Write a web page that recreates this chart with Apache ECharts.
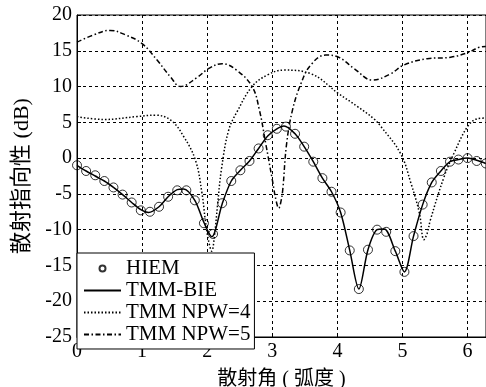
<!DOCTYPE html>
<html>
<head>
<meta charset="utf-8">
<script src="https://cdn.jsdelivr.net/npm/echarts@6/dist/echarts.min.js"></script>
<style>html,body{margin:0;padding:0;background:#fff;}#c{width:486px;height:387px;}</style>
</head>
<body>
<div id="c"></div>
<script>
// HIEM (circles)
const hiemX = [0, 0.14, 0.28, 0.42, 0.56, 0.70, 0.84, 0.98, 1.12, 1.26, 1.40, 1.54, 1.68, 1.81, 1.95, 2.09, 2.23, 2.37, 2.51, 2.65, 2.79, 2.93, 3.07, 3.21, 3.35, 3.49, 3.63, 3.77, 3.91, 4.05, 4.19, 4.33, 4.47, 4.61, 4.75, 4.89, 5.03, 5.17, 5.31, 5.45, 5.59, 5.73, 5.86, 6.00, 6.14, 6.28];
const hiemY = [-1.0, -1.8, -2.4, -3.2, -4.1, -5.1, -6.2, -7.3, -7.5, -6.8, -5.4, -4.5, -4.5, -5.9, -9.1, -10.6, -6.3, -3.2, -1.7, -0.4, 1.35, 3.2, 4.1, 4.4, 3.4, 1.6, -0.5, -2.8, -4.7, -7.6, -12.9, -18.3, -12.8, -10.0, -10.3, -13.0, -15.9, -10.9, -6.5, -3.4, -1.8, -0.5, -0.2, 0.0, -0.4, -0.75];
// TMM-BIE (solid)
const bieX = [0, 0.14, 0.28, 0.42, 0.56, 0.70, 0.84, 0.98, 1.10, 1.26, 1.40, 1.54, 1.64, 1.81, 1.95, 2.07, 2.23, 2.37, 2.51, 2.65, 2.79, 2.93, 3.07, 3.18, 3.35, 3.49, 3.63, 3.77, 3.91, 4.05, 4.19, 4.33, 4.47, 4.61, 4.72, 4.89, 5.03, 5.17, 5.31, 5.45, 5.59, 5.73, 5.86, 6.00, 6.14, 6.28];
const bieY = [-1.0, -1.8, -2.5, -3.2, -4.1, -5.1, -6.2, -7.2, -7.6, -6.8, -5.4, -4.4, -4.3, -5.9, -9.0, -11.0, -6.4, -3.2, -1.7, -0.4, 1.35, 3.1, 4.1, 4.5, 3.4, 1.6, -0.5, -2.8, -4.7, -7.6, -12.9, -18.3, -12.8, -10.0, -9.9, -13.0, -15.9, -10.9, -6.5, -3.4, -1.8, -0.5, -0.2, 0.0, -0.3, -0.75];
// TMM NPW=4 (dotted)
const npw4X = [0, 0.41, 0.92, 1.20, 1.44, 1.64, 1.82, 1.92, 1.97, 2.02, 2.07, 2.11, 2.16, 2.22, 2.33, 2.46, 2.69, 2.92, 3.18, 3.59, 4.02, 4.31, 4.56, 4.67, 4.97, 5.13, 5.26, 5.33, 5.38, 5.43, 5.64, 5.79, 6.00, 6.15, 6.28];
const npw4Y = [5.8, 5.4, 5.8, 6.0, 5.3, 3.0, -0.3, -4.9, -8.6, -11.5, -13.0, -11.0, -6.5, -1.5, 3.9, 6.5, 10.0, 11.6, 12.3, 11.8, 9.0, 7.2, 5.5, 4.4, 0.65, -3.5, -7.7, -11.4, -10.5, -8.6, -2.6, 0.65, 4.4, 5.5, 5.6];
// TMM NPW=5 (dash-dot)
const npw5X = [0, 0.25, 0.51, 0.75, 1.0, 1.23, 1.44, 1.59, 1.85, 2.02, 2.23, 2.45, 2.69, 2.80, 2.90, 3.00, 3.06, 3.10, 3.13, 3.16, 3.22, 3.31, 3.44, 3.59, 3.82, 4.02, 4.26, 4.54, 4.82, 5.02, 5.38, 5.74, 6.02, 6.18, 6.28];
const npw5Y = [16.2, 17.2, 17.85, 17.2, 16.0, 13.7, 11.3, 10.0, 11.3, 12.5, 13.2, 12.3, 10.0, 6.8, 2.0, -3.0, -6.0, -7.0, -6.2, -4.5, 2.0, 6.7, 10.4, 13.0, 14.4, 14.1, 12.5, 10.9, 11.8, 13.0, 13.9, 14.1, 14.8, 15.5, 15.6];

const seriesNames = ['HIEM', 'TMM-BIE', 'TMM NPW=4', 'TMM NPW=5'];
const xTicks = [0, 1, 2, 3, 4, 5, 6];
const yTicks = [-25, -20, -15, -10, -5, 0, 5, 10, 15, 20];
const xTitle = '散射角 ( 弧度 )';
const yTitle = '散射指向性 (dB)';

const zip = (xs, ys) => xs.map((x, i) => [x, ys[i]]);
const FONT = '"Liberation Serif", "Noto Sans CJK SC", serif';
const grid = { type: [3, 3], color: '#000', width: 1 };
const noSym = { color: 'rgba(0,0,0,0)', borderColor: 'rgba(0,0,0,0)', borderWidth: 0 };

const chart = echarts.init(document.getElementById('c'), null, { renderer: 'canvas' });
chart.setOption({
  animation: false,
  backgroundColor: '#fff',
  grid: { left: 77, right: 0, top: 15, bottom: 50, show: true, borderColor: '#000', borderWidth: 1,
    backgroundColor: 'transparent', containLabel: false, outerBoundsMode: 'none' },
  xAxis: {
    type: 'value', min: 0, max: 6.2832, interval: 1,
    name: xTitle, nameLocation: 'middle', nameGap: 33,
    nameTextStyle: { fontFamily: FONT, fontSize: 20, color: '#000' },
    axisLine: { onZero: false, lineStyle: { color: '#000', width: 1 } },
    axisTick: { inside: true, length: 4, lineStyle: { color: '#000' } },
    axisLabel: { showMaxLabel: false, fontFamily: FONT, fontSize: 20, color: '#000', margin: 5,
      formatter: v => (xTicks.indexOf(v) >= 0 ? String(v) : '') },
    splitLine: { show: true, lineStyle: grid }
  },
  yAxis: {
    type: 'value', min: -25, max: 20, interval: 5,
    name: yTitle, nameLocation: 'middle', nameGap: 44, nameRotate: 90,
    nameTextStyle: { fontFamily: FONT, fontSize: 22, color: '#000' },
    axisLine: { show: true, onZero: false, lineStyle: { color: '#000', width: 1 } },
    axisTick: { show: true, inside: true, length: 4, lineStyle: { color: '#000' } },
    axisLabel: { fontFamily: FONT, fontSize: 20, color: '#000', margin: 5,
      formatter: v => (yTicks.indexOf(v) >= 0 ? String(v) : '') },
    splitLine: { show: true, lineStyle: grid }
  },
  legend: {
    orient: 'vertical', left: 77, top: 253,
    data: seriesNames,
    backgroundColor: '#fff', borderColor: '#000', borderWidth: 1,
    padding: [5, 4, 4, 6], itemGap: 1, itemWidth: 37, itemHeight: 6,
    textStyle: { fontFamily: FONT, fontSize: 21, color: '#000', lineHeight: 18, padding: [0, 0, 0, 0] }
  },
  series: [
    { name: 'TMM NPW=5', type: 'line', data: zip(npw5X, npw5Y), symbol: 'none', smooth: 0.4, z: 2,
      itemStyle: noSym,
      lineStyle: { color: '#000', width: 1.5, type: [5, 2.5, 1.5, 2.5] } },
    { name: 'TMM NPW=4', type: 'line', data: zip(npw4X, npw4Y), symbol: 'none', smooth: 0.4, z: 2,
      itemStyle: noSym,
      lineStyle: { color: '#000', width: 1.5, type: [1.5, 2] } },
    { name: 'TMM-BIE', type: 'line', data: zip(bieX, bieY), symbol: 'none', smooth: 0.3, z: 3,
      itemStyle: noSym,
      lineStyle: { color: '#000', width: 1.5, type: 'solid' } },
    { name: 'HIEM', type: 'scatter', data: zip(hiemX, hiemY), symbol: 'circle', symbolSize: 9, z: 4,
      itemStyle: { color: 'rgba(0,0,0,0)', borderColor: '#000', borderWidth: 1 } }
  ]
});
</script>
</body>
</html>
